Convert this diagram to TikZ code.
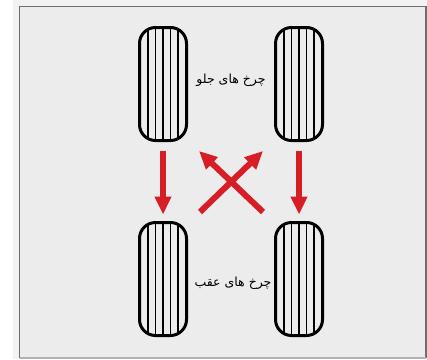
\documentclass[tikz,border=0pt]{standalone}
\usepackage{fontspec}
\newfontfamily\arabicfont[Script=Arabic]{DejaVu Sans}
\TeXXeTstate=1
\usetikzlibrary{arrows.meta}
\definecolor{bggrey}{RGB}{236,236,236}
\definecolor{framegrey}{RGB}{110,110,110}
\definecolor{arrowred}{RGB}{215,30,38}
\tikzset{
  tire/.style={draw=black, line width=3pt, rounded corners=16pt,
    minimum width=47pt, minimum height=113pt, inner sep=0pt,
    path picture={
      \foreach \dx in {-15,-7.5,0,7.5,15}
        \draw[line width=1.6pt] ([xshift=\dx pt]path picture bounding box.north) -- ([xshift=\dx pt]path picture bounding box.south);
    }},
  redarrow/.style={draw=arrowred, line width=6pt, -{Triangle[length=18pt,width=16pt]}},
  label/.style={font=\arabicfont\fontsize{12.5}{15}\selectfont, inner sep=0pt}
}
\begin{document}
\begin{tikzpicture}[x=1pt,y=-1pt]
\useasboundingbox (0,0) rectangle (427,359);
\fill[white] (0,0) rectangle (13,359);
\fill[bggrey!70!white] (13,0) rectangle (427,359);
\fill[bggrey] (19.5,6.5) rectangle (426,357.5);
\draw[framegrey, line width=1.5pt] (19.5,357.5) -- (19.5,6.5) -- (426,6.5) -- (426,357.5);
\draw[black!30, line width=1.2pt] (19.5,358) -- (426,358);

\node[tire] (fl) at (163,84) {};
\node[tire] (fr) at (299,84) {};
\node[tire] (rl) at (163,279) {};
\node[tire] (rr) at (299,279) {};

\node[label] (ft) at (231,80) {\beginR چرخ های جلو\endR};
\node[label] (rt) at (233,283) {\beginR چرخ های عقب\endR};

\draw[redarrow, shorten <=8.5pt, shorten >=6.5pt] (fl.south) -- (rl.north);
\draw[redarrow, shorten <=8.5pt, shorten >=6.5pt] (fr.south) -- (rr.north);

\coordinate (xbl) at (200,212);
\coordinate (xtr) at (263,151);
\coordinate (xbr) at (263,212);
\coordinate (xtl) at (199,151);
\draw[redarrow] (xbl) -- (xtr);
\draw[redarrow] (xbr) -- (xtl);
\end{tikzpicture}
\end{document}
